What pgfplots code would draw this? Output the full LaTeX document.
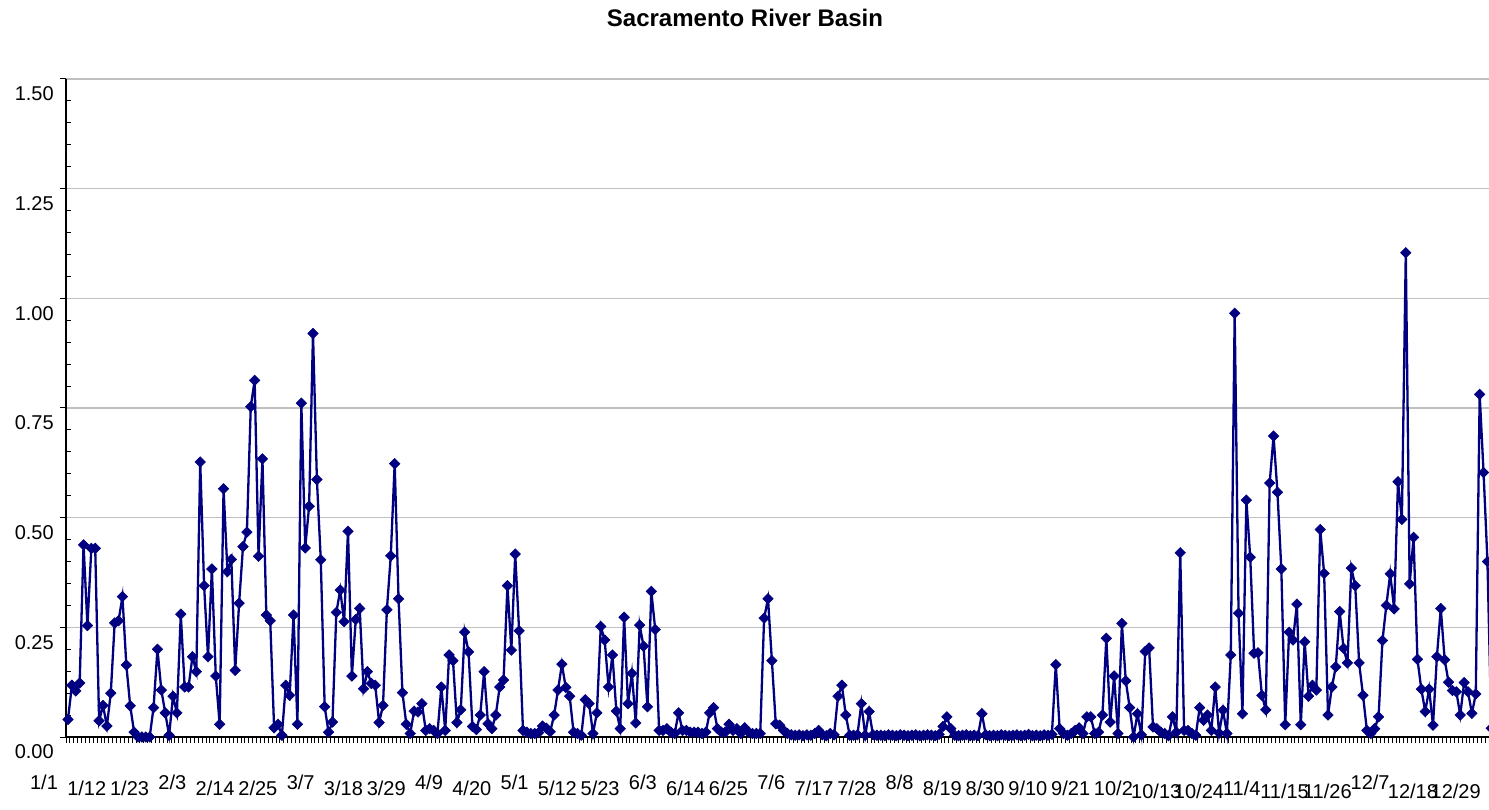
\documentclass[border=0pt]{standalone}
\usepackage{fontspec}
\setmainfont{Liberation Sans}
\usepackage{pgfplots}
\pgfplotsset{compat=1.18}
\definecolor{navy}{RGB}{0,0,128}
\definecolor{gridgray}{RGB}{192,192,192}
\newcommand{\lA}[1]{\raisebox{3pt}{#1}}
\newcommand{\lC}[1]{\raisebox{-1.5pt}{#1}}
\begin{document}
\begin{tikzpicture}[x=1pt,y=1pt]
\path[use as bounding box] (-33,-36) rectangle (711.5,368.5);
\begin{axis}[
  scale only axis, width=711.5pt, height=329pt,
  at={(0,0)}, anchor=south west,
  xmin=-0.514, xmax=365.4, ymin=0, ymax=1.5,
  clip=false,
  axis lines*=left,
  axis line style={black, line width=0.6pt},
  tick align=outside,
  tick style={black, line width=0.5pt},
  major tick length=2.9pt,
  minor tick length=-2.5pt,
  ytick={0,0.25,...,1.5},
  minor y tick num=4,
  ymajorgrids,
  major grid style={gridgray, line width=0.6pt},
  /pgf/number format/fixed,
  /pgf/number format/fixed zerofill,
  /pgf/number format/precision=2,
  /pgf/number format/assume math mode=true,
  yticklabel style={font=\fontsize{10}{11}\selectfont, anchor=east, xshift=0.3pt, yshift=-7.5pt},
  xtick={-0.5,0.5,...,365.5},
  xticklabels={},
  extra x ticks={4.83,15.83,...,356.83},
  extra x tick labels={1/12,1/23,\lA{2/3},2/14,2/25,\lA{3/7},3/18,3/29,\lA{4/9},4/20,\lA{5/1},5/12,5/23,\lA{6/3},6/14,6/25,\lA{7/6},7/17,7/28,\lA{8/8},8/19,8/30,9/10,9/21,10/2,\lC{10/13},\lC{10/24},11/4,\lC{11/15},\lC{11/26},\lA{12/7},\lC{12/18},\lC{12/29}},
  extra x tick style={major tick length=0pt, xticklabel style={font=\fontsize{10}{11}\selectfont, anchor=base, yshift=-29.3pt}},
]
\addplot[navy, line width=1.15pt, mark=square*, mark size=1.85pt, mark options={rotate=45, solid, fill=navy, draw=navy, line width=0.3pt}] coordinates {
(0,0.040) (1,0.118) (2,0.105) (3,0.123) (4,0.438) (5,0.254) (6,0.43) (7,0.43) (8,0.037) (9,0.072)
(10,0.025) (11,0.100) (12,0.26) (13,0.265) (14,0.32) (15,0.164) (16,0.071) (17,0.011) (18,0.0) (19,0.0)
(20,0.0) (21,0.0) (22,0.067) (23,0.20) (24,0.107) (25,0.055) (26,0.004) (27,0.093) (28,0.055) (29,0.28)
(30,0.114) (31,0.114) (32,0.183) (33,0.149) (34,0.627) (35,0.345) (36,0.183) (37,0.383) (38,0.139) (39,0.029)
(40,0.566) (41,0.377) (42,0.405) (43,0.152) (44,0.305) (45,0.434) (46,0.467) (47,0.753) (48,0.813) (49,0.412)
(50,0.634) (51,0.278) (52,0.265) (53,0.021) (54,0.029) (55,0.004) (56,0.118) (57,0.095) (58,0.278) (59,0.029)
(60,0.761) (61,0.431) (62,0.526) (63,0.92) (64,0.587) (65,0.404) (66,0.069) (67,0.011) (68,0.034) (69,0.284)
(70,0.335) (71,0.263) (72,0.469) (73,0.139) (74,0.268) (75,0.293) (76,0.11) (77,0.149) (78,0.122) (79,0.118)
(80,0.033) (81,0.072) (82,0.29) (83,0.413) (84,0.623) (85,0.315) (86,0.101) (87,0.029) (88,0.008) (89,0.059)
(90,0.057) (91,0.076) (92,0.015) (93,0.019) (94,0.015) (95,0.008) (96,0.114) (97,0.015) (98,0.187) (99,0.174)
(100,0.033) (101,0.062) (102,0.239) (103,0.194) (104,0.024) (105,0.017) (106,0.05) (107,0.149) (108,0.03) (109,0.019)
(110,0.05) (111,0.114) (112,0.13) (113,0.345) (114,0.198) (115,0.417) (116,0.242) (117,0.015) (118,0.011) (119,0.008)
(120,0.008) (121,0.01) (122,0.025) (123,0.02) (124,0.012) (125,0.05) (126,0.107) (127,0.166) (128,0.113) (129,0.093)
(130,0.011) (131,0.008) (132,0.004) (133,0.085) (134,0.076) (135,0.008) (136,0.055) (137,0.252) (138,0.221) (139,0.114)
(140,0.187) (141,0.059) (142,0.019) (143,0.273) (144,0.076) (145,0.145) (146,0.032) (147,0.255) (148,0.207) (149,0.069)
(150,0.332) (151,0.245) (152,0.015) (153,0.015) (154,0.019) (155,0.011) (156,0.008) (157,0.055) (158,0.015) (159,0.015)
(160,0.011) (161,0.011) (162,0.011) (163,0.008) (164,0.011) (165,0.055) (166,0.067) (167,0.019) (168,0.011) (169,0.011)
(170,0.029) (171,0.015) (172,0.019) (173,0.008) (174,0.021) (175,0.011) (176,0.008) (177,0.008) (178,0.008) (179,0.271)
(180,0.315) (181,0.174) (182,0.03) (183,0.027) (184,0.015) (185,0.008) (186,0.005) (187,0.004) (188,0.005) (189,0.003)
(190,0.005) (191,0.004) (192,0.008) (193,0.015) (194,0.005) (195,0.003) (196,0.008) (197,0.005) (198,0.093) (199,0.118)
(200,0.05) (201,0.004) (202,0.004) (203,0.005) (204,0.076) (205,0.004) (206,0.058) (207,0.005) (208,0.004) (209,0.004)
(210,0.003) (211,0.005) (212,0.004) (213,0.003) (214,0.005) (215,0.004) (216,0.003) (217,0.004) (218,0.005) (219,0.003)
(220,0.004) (221,0.005) (222,0.004) (223,0.003) (224,0.006) (225,0.024) (226,0.046) (227,0.019) (228,0.004) (229,0.003)
(230,0.004) (231,0.005) (232,0.003) (233,0.004) (234,0.003) (235,0.053) (236,0.005) (237,0.003) (238,0.004) (239,0.003)
(240,0.005) (241,0.004) (242,0.003) (243,0.004) (244,0.005) (245,0.003) (246,0.004) (247,0.006) (248,0.003) (249,0.004)
(250,0.003) (251,0.005) (252,0.004) (253,0.006) (254,0.165) (255,0.019) (256,0.008) (257,0.004) (258,0.008) (259,0.015)
(260,0.021) (261,0.008) (262,0.046) (263,0.046) (264,0.008) (265,0.011) (266,0.05) (267,0.225) (268,0.034) (269,0.139)
(270,0.008) (271,0.259) (272,0.128) (273,0.067) (274,0.0) (275,0.053) (276,0.005) (277,0.195) (278,0.203) (279,0.023)
(280,0.019) (281,0.011) (282,0.008) (283,0.003) (284,0.046) (285,0.011) (286,0.42) (287,0.015) (288,0.015) (289,0.008)
(290,0.004) (291,0.067) (292,0.038) (293,0.05) (294,0.015) (295,0.114) (296,0.009) (297,0.061) (298,0.008) (299,0.187)
(300,0.966) (301,0.282) (302,0.053) (303,0.54) (304,0.41) (305,0.191) (306,0.192) (307,0.095) (308,0.062) (309,0.579)
(310,0.686) (311,0.558) (312,0.383) (313,0.028) (314,0.239) (315,0.221) (316,0.303) (317,0.028) (318,0.217) (319,0.093)
(320,0.118) (321,0.107) (322,0.473) (323,0.373) (324,0.05) (325,0.114) (326,0.16) (327,0.286) (328,0.202) (329,0.169)
(330,0.385) (331,0.345) (332,0.169) (333,0.095) (334,0.015) (335,0.008) (336,0.019) (337,0.046) (338,0.22) (339,0.30)
(340,0.372) (341,0.292) (342,0.582) (343,0.496) (344,1.104) (345,0.349) (346,0.455) (347,0.177) (348,0.109) (349,0.058)
(350,0.109) (351,0.027) (352,0.183) (353,0.293) (354,0.176) (355,0.125) (356,0.106) (357,0.103) (358,0.05) (359,0.124)
(360,0.103) (361,0.054) (362,0.098) (363,0.781) (364,0.603) (365,0.40) (366,0.02)
};
\end{axis}
\node[anchor=base, font=\bfseries\fontsize{12}{13}\selectfont] at (339.5,355.25) {Sacramento River Basin};
\node[anchor=base, font=\fontsize{10}{11}\selectfont] at (-11,-26.3) {1/1};
\end{tikzpicture}
\end{document}
